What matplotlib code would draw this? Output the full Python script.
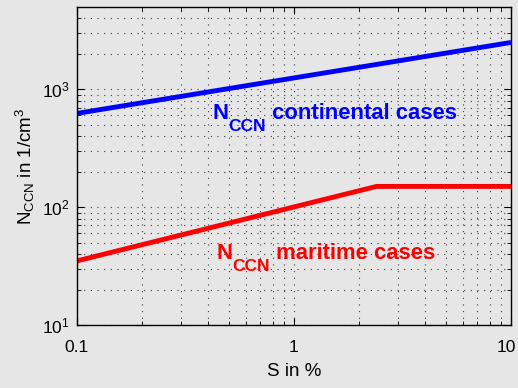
import matplotlib
matplotlib.use('Agg')
import matplotlib.pyplot as plt
from matplotlib.ticker import FixedLocator, FixedFormatter, LogLocator, NullFormatter
from matplotlib.transforms import ScaledTranslation

# supersaturation S in % and CCN number concentration in 1/cm^3
s_cont = [0.1, 10]
n_cont = [625, 2500]

s_mari = [0.1, 2.4, 10]
n_mari = [35, 150, 150]

xticks = [0.1, 1, 10]
xticklabels = ['0.1', '1', '10']

plt.rcParams['font.family'] = ['Liberation Sans', 'DejaVu Sans']
plt.rcParams['mathtext.fontset'] = 'custom'
plt.rcParams['mathtext.rm'] = 'Liberation Sans'
plt.rcParams['mathtext.it'] = 'Liberation Sans'
plt.rcParams['mathtext.bf'] = 'Liberation Sans:bold'

bg = '#e6e6e6'
fig = plt.figure(figsize=(5.18, 3.88), dpi=100, facecolor=bg)
ax = fig.add_axes([0.1486, 0.1624, 0.8379, 0.8196])
ax.set_facecolor(bg)

ax.plot(s_cont, n_cont, color='#0000ff', lw=3.5, solid_capstyle='butt')
ax.plot(s_mari, n_mari, color='#ff0000', lw=3.5, solid_capstyle='butt')

ax.set_xscale('log')
ax.set_yscale('log')
ax.set_xlim(0.1, 10)
ax.set_ylim(10, 5000)

ax.xaxis.set_major_locator(FixedLocator(xticks))
ax.xaxis.set_major_formatter(FixedFormatter(xticklabels))
ax.xaxis.set_minor_locator(LogLocator(base=10, subs=range(2, 10)))
ax.xaxis.set_minor_formatter(NullFormatter())
ax.yaxis.set_major_locator(LogLocator(base=10, numticks=10))
ax.yaxis.set_minor_locator(LogLocator(base=10, subs=range(2, 10), numticks=20))
ax.yaxis.set_minor_formatter(NullFormatter())

ax.tick_params(which='both', direction='in', top=True, right=True, labelsize=12.5)
ax.tick_params(which='major', length=5, width=0.8)
ax.tick_params(which='minor', length=3, width=0.6)
ax.tick_params(axis='x', which='major', pad=10.5)
ax.tick_params(axis='y', which='major', pad=5)

# matlab style sparse dotted grid
ax.grid(True, which='both', linestyle=(0, (1, 5)), color='#3a3a3a', linewidth=0.8)

for sp in ax.spines.values():
    sp.set_linewidth(1.0)

ax.set_xlabel('S in %', fontsize=13.5, labelpad=6)
ax.set_ylabel(r'$\mathrm{N_{CCN}}$ in 1/cm$^3$', fontsize=13.5)


# curve labels: N, lowered CCN subscript, then the rest on N's baseline
def curve_label(x, y, rest, col):
    t1 = ax.text(x, y, 'N', color=col, fontsize=15.8, fontweight='bold', va='baseline')
    t2 = ax.annotate('CCN', xy=(1, 0), xycoords=t1, xytext=(0, 4.2),
                     textcoords='offset points', color=col, fontsize=12.5,
                     fontweight='bold', va='top', ha='left')
    ax.annotate(rest, xy=(1, 0), xycoords=(t2, t1), color=col, fontsize=15.8,
                fontweight='bold', va='bottom', ha='left')


curve_label(0.42, 556, ' continental cases', '#0000ff')
curve_label(0.44, 36, ' maritime cases', '#ff0000')

# last x tick label sits a bit left so it stays inside the figure
fig.canvas.draw()
lbl = ax.get_xticklabels()[-1]
lbl.set_transform(lbl.get_transform() + ScaledTranslation(-5 / 100, 0, fig.dpi_scale_trans))

fig.savefig('out.png', dpi=100, facecolor=bg)
